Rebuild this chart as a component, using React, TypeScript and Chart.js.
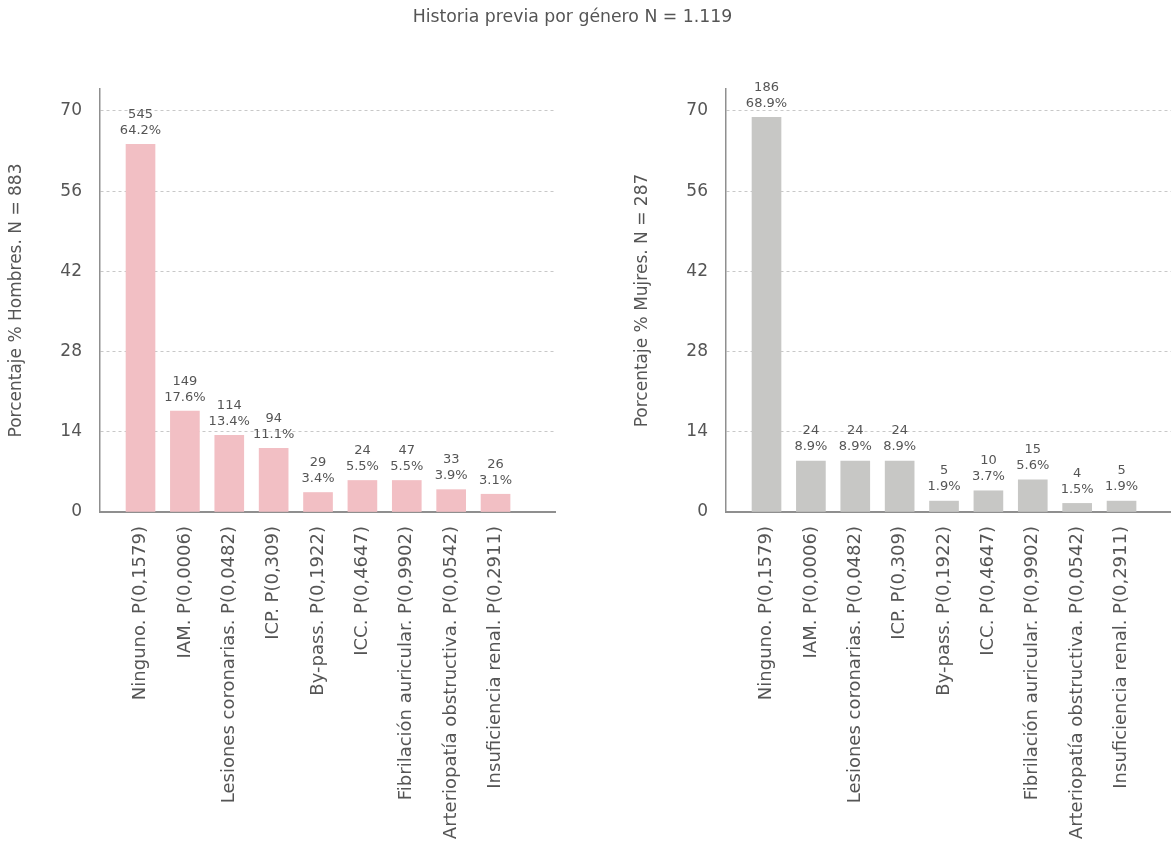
import React, { useEffect, useRef } from "react";
import { Chart, registerables } from "chart.js";

Chart.register(...registerables);

// Antecedentes clínicos evaluados (con su valor p)
const categories = [
  "Ninguno. P(0,1579)",
  "IAM. P(0,0006)",
  "Lesiones coronarias. P(0,0482)",
  "ICP. P(0,309)",
  "By-pass. P(0,1922)",
  "ICC. P(0,4647)",
  "Fibrilación auricular. P(0,9902)",
  "Arteriopatía obstructiva. P(0,0542)",
  "Insuficiencia renal. P(0,2911)",
];

// Hombres (N = 883)
const menCounts = [545, 149, 114, 94, 29, 24, 47, 33, 26];
const menPercent = [64.2, 17.6, 13.4, 11.1, 3.4, 5.5, 5.5, 3.9, 3.1];

// Mujeres (N = 287)
const womenCounts = [186, 24, 24, 24, 5, 10, 15, 4, 5];
const womenPercent = [68.9, 8.9, 8.9, 8.9, 1.9, 3.7, 5.6, 1.5, 1.9];

const yTicks = [0, 14, 28, 42, 56, 70];

const FONT = "'DejaVu Sans', sans-serif";
const TEXT = "#555555";
const AXIS = "#8f8f8f";

const PANEL_W = 626;
const PANEL_H = 849;

type PanelProps = {
  counts: number[];
  percents: number[];
  color: string;
  yTitle: string;
  left: number;
};

function BarPanel({ counts, percents, color, yTitle, left }: PanelProps) {
  const ref = useRef<HTMLCanvasElement | null>(null);

  useEffect(() => {
    const canvas = ref.current;
    if (!canvas) return;

    // Count and percentage written above each bar
    const valueLabels = {
      id: "valueLabels",
      afterDatasetsDraw(chart: any) {
        const ctx = chart.ctx;
        const meta = chart.getDatasetMeta(0);
        ctx.save();
        ctx.fillStyle = TEXT;
        ctx.font = `13px ${FONT}`;
        ctx.textAlign = "center";
        ctx.textBaseline = "middle";
        meta.data.forEach((bar: any, i: number) => {
          ctx.fillText(String(counts[i]), bar.x, bar.y - 30);
          ctx.fillText(`${percents[i].toFixed(1)}%`, bar.x, bar.y - 14);
        });
        ctx.restore();
      },
    };

    const chart = new Chart(canvas, {
      type: "bar",
      data: {
        datasets: [
          {
            data: percents.map((v, i) => ({ x: i, y: v })),
            backgroundColor: color,
            borderWidth: 0,
            barThickness: 29,
          },
        ],
      },
      options: {
        animation: false,
        responsive: false,
        devicePixelRatio: 1,
        layout: { padding: { top: 89, right: 71, left: 0, bottom: 0 } },
        plugins: {
          legend: { display: false },
          tooltip: { enabled: false },
          title: { display: false },
        },
        scales: {
          x: {
            type: "linear",
            min: -0.913,
            max: 9.34,
            offset: false,
            grid: { display: false, drawTicks: false },
            border: { display: true, color: AXIS, width: 2 },
            afterBuildTicks: (scale: any) => {
              scale.ticks = categories.map((_, i) => ({ value: i }));
            },
            afterFit: (scale: any) => {
              scale.height = PANEL_H - 512;
            },
            ticks: {
              autoSkip: false,
              maxRotation: 90,
              minRotation: 90,
              padding: 14,
              color: TEXT,
              font: { family: FONT, size: 18 },
              callback: (v: any) => categories[v] ?? "",
            },
          },
          y: {
            min: 0,
            max: 73.84,
            afterBuildTicks: (scale: any) => {
              scale.ticks = yTicks.map((v) => ({ value: v }));
            },
            afterFit: (scale: any) => {
              scale.width = 100;
            },
            grid: { color: "#c8c8c8", lineWidth: 1, drawTicks: false },
            border: { display: true, color: AXIS, width: 1.5, dash: [3, 3] },
            ticks: {
              padding: 18,
              color: TEXT,
              font: { family: FONT, size: 17 },
            },
            title: {
              display: true,
              text: yTitle,
              color: TEXT,
              font: { family: FONT, size: 17 },
              padding: { top: 6, bottom: 0 },
            },
          },
        },
      },
      plugins: [valueLabels],
    });

    return () => chart.destroy();
  }, [counts, percents, color, yTitle]);

  return (
    <canvas
      ref={ref}
      width={PANEL_W}
      height={PANEL_H}
      style={{ position: "absolute", left, top: 0, width: PANEL_W, height: PANEL_H }}
    />
  );
}

export default function App() {
  return (
    <div
      style={{
        position: "fixed",
        left: 0,
        top: 0,
        width: 1171,
        height: 849,
        overflow: "hidden",
        background: "#ffffff",
      }}
    >
      <BarPanel
        counts={menCounts}
        percents={menPercent}
        color="#f2bfc4"
        yTitle="Porcentaje % Hombres. N = 883"
        left={0}
      />
      <BarPanel
        counts={womenCounts}
        percents={womenPercent}
        color="#c7c7c5"
        yTitle="Porcentaje % Mujres. N = 287"
        left={626}
      />
      <div
        style={{
          position: "absolute",
          left: 0,
          top: 5,
          width: 1145,
          textAlign: "center",
          fontFamily: FONT,
          fontSize: 17.3,
          color: TEXT,
          lineHeight: "22px",
        }}
      >
        Historia previa por género N = 1.119
      </div>
    </div>
  );
}
